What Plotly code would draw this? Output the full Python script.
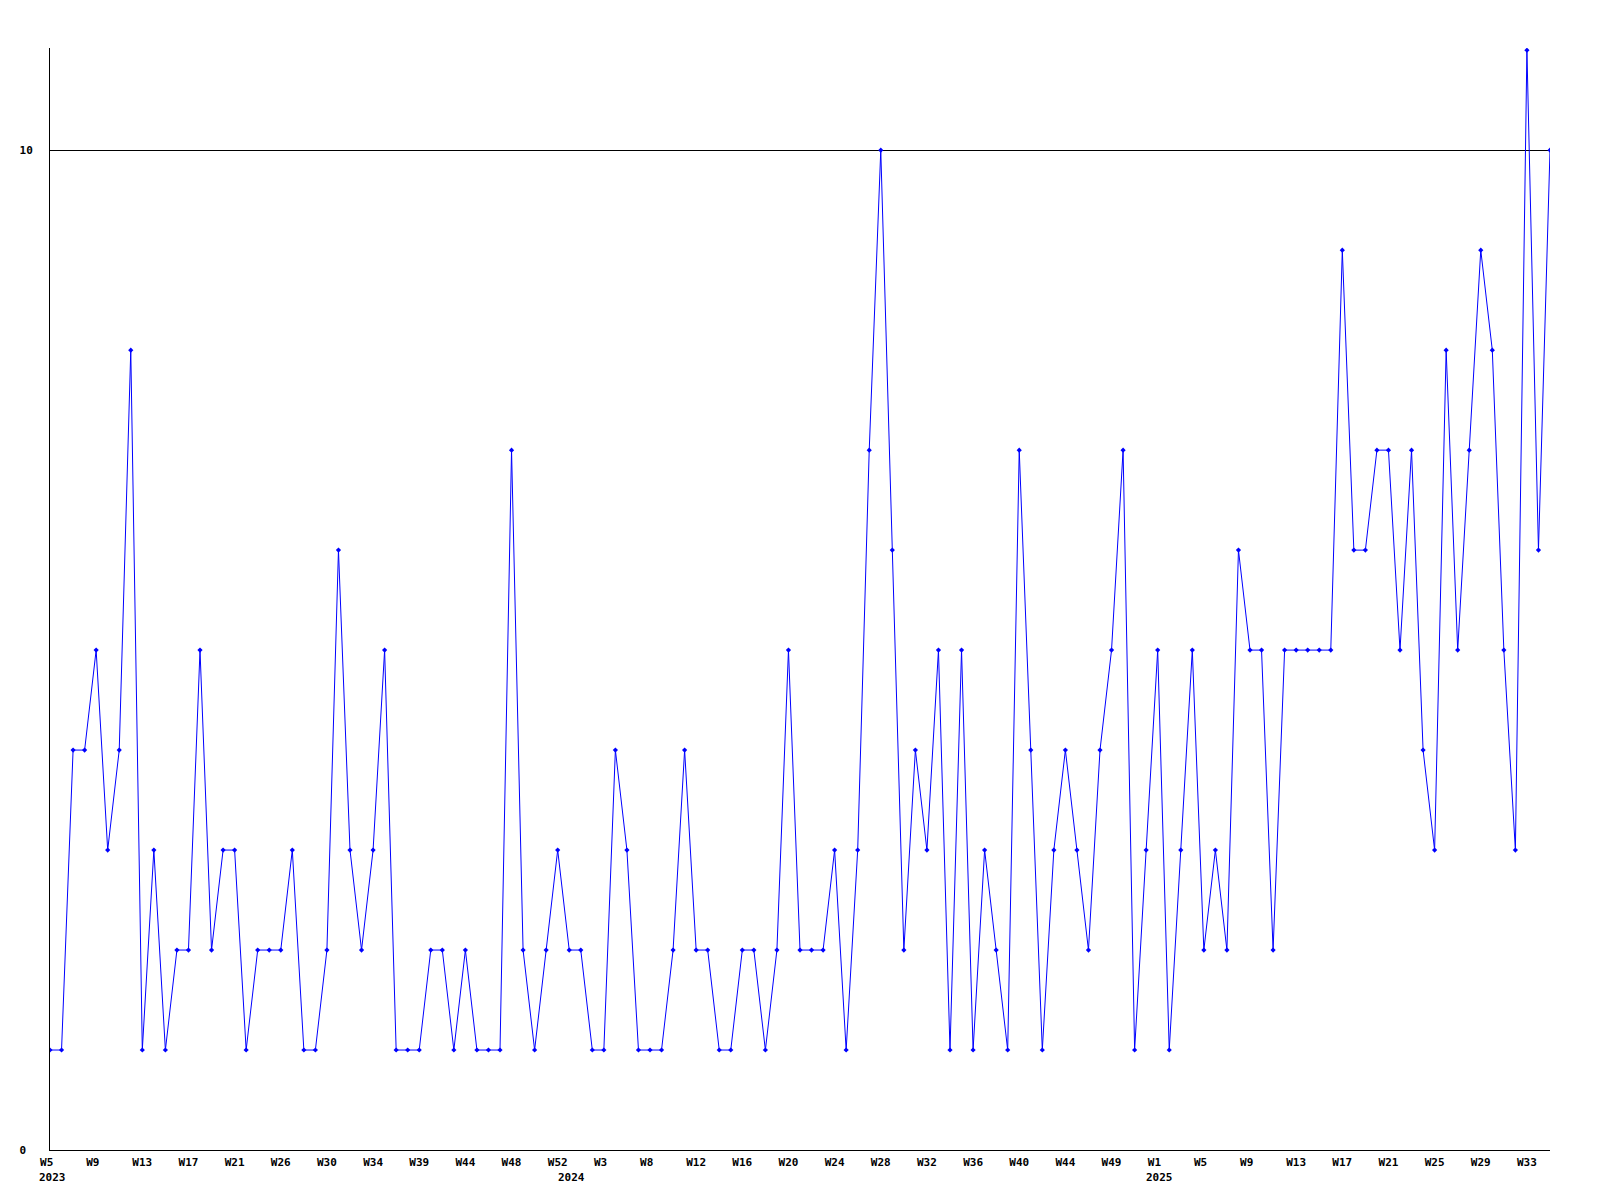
import plotly.graph_objects as go

# Weekly values, 2023 W5 .. 2025 W35 (131 points)
values = [
    1, 1, 4, 4, 5, 3, 4, 8, 1, 3,
    1, 2, 2, 5, 2, 3, 3, 1, 2, 2,
    2, 3, 1, 1, 2, 6, 3, 2, 3, 5,
    1, 1, 1, 2, 2, 1, 2, 1, 1, 1,
    7, 2, 1, 2, 3, 2, 2, 1, 1, 4,
    3, 1, 1, 1, 2, 4, 2, 2, 1, 1,
    2, 2, 1, 2, 5, 2, 2, 2, 3, 1,
    3, 7, 10, 6, 2, 4, 3, 5, 1, 5,
    1, 3, 2, 1, 7, 4, 1, 3, 4, 3,
    2, 4, 5, 7, 1, 3, 5, 1, 3, 5,
    2, 3, 2, 6, 5, 5, 2, 5, 5, 5,
    5, 5, 9, 6, 6, 7, 7, 5, 7, 4,
    3, 8, 5, 7, 9, 8, 5, 3, 11, 6,
    10,
]

# Tick labels shown every 4th point
week_labels = [
    "W5", "W9", "W13", "W17", "W21", "W26", "W30", "W34", "W39", "W44", "W48",
    "W52", "W3", "W8", "W12", "W16", "W20", "W24", "W28", "W32", "W36", "W40",
    "W44", "W49", "W1", "W5", "W9", "W13", "W17", "W21", "W25", "W29", "W33",
]
tick_step = 4

# Year labels and the point index where they are placed
year_labels = ["2023", "2024", "2025"]
year_index = [0, 45, 96]

x = list(range(len(values)))
tickvals = [i * tick_step for i in range(len(week_labels))]
ticktext = [lbl.ljust(3, "\u00a0") for lbl in week_labels]

FONT = dict(family="DejaVu Sans Mono, Liberation Mono, monospace", size=11, color="black", weight="bold")

fig = go.Figure()
fig.add_trace(go.Scatter(
    x=x, y=values, mode="lines+markers",
    line=dict(color="#0000ff", width=1),
    marker=dict(symbol="diamond", size=4, color="#0000ff"),
    showlegend=False, hoverinfo="skip",
))

ymax = max(values) * 1.002

fig.update_layout(
    width=1600, height=1200,
    margin=dict(l=42, r=58, t=40, b=58, pad=0),
    paper_bgcolor="white", plot_bgcolor="white",
    font=FONT,
    xaxis=dict(
        range=[0, len(values) - 1],
        tickmode="array", tickvals=tickvals, ticktext=ticktext,
        showgrid=False, zeroline=False,
        showline=True, linecolor="black", linewidth=1,
        ticks="", ticklabelstandoff=2,
        tickfont=FONT,
    ),
    yaxis=dict(
        range=[0, ymax],
        tickmode="array", tickvals=[0, 10], ticktext=["0\u00a0", "10"],
        showgrid=True, gridcolor="black", gridwidth=1,
        zeroline=False,
        showline=True, linecolor="black", linewidth=1,
        ticks="", ticklabelstandoff=14,
        tickfont=FONT,
    ),
)

for lbl, idx in zip(year_labels, year_index):
    fig.add_annotation(
        x=idx, y=0, xref="x", yref="paper",
        text=lbl, showarrow=False,
        xanchor="center", yanchor="middle", yshift=-27, xshift=2,
        font=FONT,
    )

fig.write_html("out.html", config={"displayModeBar": False})
